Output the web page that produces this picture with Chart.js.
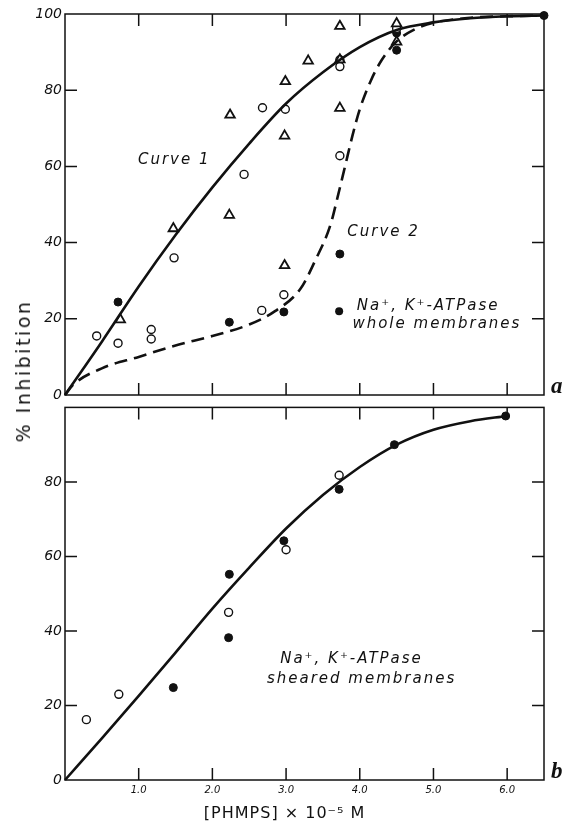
<!DOCTYPE html>
<html>
<head>
<meta charset="utf-8">
<script src="https://cdn.jsdelivr.net/npm/chart.js@4.4.1/dist/chart.umd.min.js"></script>
<style>
  body { margin: 0; background: #fff; width: 568px; height: 826px; position: relative; overflow: hidden; }
  #wa { position: absolute; left: 0; top: 0; width: 568px; height: 410px; }
  #wb { position: absolute; left: 0; top: 396px; width: 568px; height: 430px; }
  #ytitle {
    position: absolute; left: 23px; top: 371px;
    transform: translate(-50%, -50%) rotate(-90deg);
    font: 19px "DejaVu Sans", sans-serif; letter-spacing: 2.5px;
    color: #111; white-space: nowrap;
  }
</style>
</head>
<body>
<div id="wa"><canvas id="chartA"></canvas></div>
<div id="wb"><canvas id="chartB"></canvas></div>
<div id="ytitle">% Inhibition</div>
<script>
// ---- panel a: whole membranes ----
const A_OPEN_X = [0.43, 0.72, 1.17, 1.17, 1.48, 2.43, 2.68, 2.67, 2.99, 2.97, 3.73, 3.73, 3.73, 4.50];
const A_OPEN_Y = [15.5, 13.6, 17.2, 14.7, 36.0, 57.9, 75.4, 22.2, 75.0, 26.3, 88.0, 86.2, 62.8, 96.2];
const A_TRI_X = [0.75, 1.47, 2.24, 2.23, 2.99, 2.98, 2.98, 3.30, 3.73, 3.73, 3.73, 4.50, 4.50];
const A_TRI_Y = [19.8, 43.7, 73.5, 47.2, 82.3, 68.0, 34.0, 87.7, 96.8, 88.0, 75.3, 97.5, 92.7];
const A_FILL_X = [0.72, 2.23, 2.97, 3.73, 4.50, 4.50, 6.50];
const A_FILL_Y = [24.4, 19.1, 21.8, 37.0, 95.0, 90.5, 99.6];

const CURVE1_X = [0, 0.5, 1, 1.5, 2, 2.5, 3, 3.5, 4, 4.5, 5, 5.5, 6, 6.5];
const CURVE1_Y = [0, 14, 28.5, 42, 54.5, 66, 76.5, 84.7, 91.3, 95.8, 97.8, 98.9, 99.4, 99.6];
const CURVE2_X = [0, 0.1, 0.5, 1, 1.5, 2, 2.5, 2.85, 3.2, 3.4, 3.6, 3.7, 3.8, 3.9, 4, 4.15, 4.3, 4.5, 4.75, 5, 5.5, 6, 6.5];
const CURVE2_Y = [0, 2.5, 7, 10, 13, 15.5, 18.5, 22, 28, 35.5, 44.5, 52, 60, 68, 75, 82.5, 88, 92.8, 96, 97.7, 99, 99.4, 99.6];

// ---- panel b: sheared membranes ----
const B_OPEN_X = [0.29, 0.73, 2.22, 3.00, 3.72];
const B_OPEN_Y = [16.2, 23.0, 45.0, 61.8, 81.8];
const B_FILL_X = [1.47, 2.22, 2.23, 2.97, 3.72, 4.47, 5.98];
const B_FILL_Y = [24.8, 38.2, 55.2, 64.2, 78.0, 90.0, 97.7];
const CURVEB_X = [0, 0.5, 1, 1.5, 2, 2.5, 3, 3.5, 4, 4.5, 5, 5.5, 6];
const CURVEB_Y = [0, 11.2, 22.6, 34.2, 46, 57, 67.5, 76.5, 84, 90, 94, 96.3, 97.7];

// ---- axes ----
const X_TICKS = [1, 2, 3, 4, 5, 6];
const A_Y_TICKS = [0, 20, 40, 60, 80, 100];
const B_Y_TICKS = [0, 20, 40, 60, 80];
const INNER_Y_TICKS = [20, 40, 60, 80];

const INK = "#111";
const pts = (xs, ys) => xs.map((x, i) => ({ x, y: ys[i] }));

// frame + inward tick marks + text labels
const framePlugin = {
  id: "frame",
  afterDraw(chart, args, opts) {
    const { ctx, chartArea: a, scales } = chart;
    const xs = scales.x, ys = scales.y;
    ctx.save();
    ctx.strokeStyle = INK;
    ctx.lineWidth = 1.5;
    ctx.strokeRect(a.left, a.top, a.right - a.left, a.bottom - a.top);
    const len = 12;
    ctx.beginPath();
    X_TICKS.forEach((v) => {
      const px = xs.getPixelForValue(v);
      ctx.moveTo(px, a.bottom); ctx.lineTo(px, a.bottom - len);
      ctx.moveTo(px, a.top); ctx.lineTo(px, a.top + len);
    });
    INNER_Y_TICKS.forEach((v) => {
      const py = ys.getPixelForValue(v);
      ctx.moveTo(a.left, py); ctx.lineTo(a.left + len, py);
      ctx.moveTo(a.right, py); ctx.lineTo(a.right - len, py);
    });
    ctx.stroke();

    // text labels placed in data units
    ctx.fillStyle = INK;
    ctx.textBaseline = "middle";
    ctx.textAlign = "left";
    ctx.letterSpacing = "2px";
    (opts.texts || []).forEach((t) => {
      ctx.font = t.font || 'italic 15px "DejaVu Sans"';
      ctx.fillText(t.text, xs.getPixelForValue(t.x), ys.getPixelForValue(t.y));
    });
    ctx.letterSpacing = "0px";
    (opts.dots || []).forEach((d) => {
      ctx.beginPath();
      ctx.arc(xs.getPixelForValue(d.x), ys.getPixelForValue(d.y), 4, 0, Math.PI * 2);
      ctx.fill();
    });

    // panel letter
    ctx.font = 'italic bold 23px "Liberation Serif", serif';
    ctx.textBaseline = "alphabetic";
    ctx.fillText(opts.letter, a.right + 7, a.bottom - 2);

    if (opts.xTitle) {
      ctx.font = '16px "DejaVu Sans", sans-serif';
      ctx.textAlign = "center";
      ctx.letterSpacing = "1px";
      ctx.fillText(opts.xTitle, xs.getPixelForValue(2.98), a.bottom + 38);
      ctx.letterSpacing = "0px";
    }
    ctx.restore();
  },
};

const openCircle = (data) => ({
  type: "scatter", data, pointStyle: "circle", pointRadius: 4,
  pointBackgroundColor: "#fff", pointBorderColor: INK, pointBorderWidth: 1.4, clip: false,
});
const filledCircle = (data) => ({
  type: "scatter", data, pointStyle: "circle", pointRadius: 4,
  pointBackgroundColor: INK, pointBorderColor: INK, pointBorderWidth: 1, clip: false,
});
const openTriangle = (data) => ({
  type: "scatter", data, pointStyle: "triangle", pointRadius: 5.5,
  pointBackgroundColor: "#fff", pointBorderColor: INK, pointBorderWidth: 1.8, clip: false,
});
const curve = (data, dash) => ({
  type: "line", data, borderColor: INK, borderWidth: 2.6, borderDash: dash || [],
  pointRadius: 0, cubicInterpolationMode: "monotone", fill: false, clip: false,
});

const tickFont = { family: "DejaVu Sans", size: 14, style: "italic" };

function yAxis(ticks, width) {
  return {
    type: "linear", min: 0, max: 100,
    afterBuildTicks: (s) => { s.ticks = ticks.map((v) => ({ value: v })); },
    ticks: { color: INK, font: tickFont, padding: 3 },
    grid: { display: false, drawTicks: false },
    border: { display: false },
    afterFit: (s) => { s.width = width; },
  };
}

const common = {
  responsive: true,
  maintainAspectRatio: false,
  animation: false,
  events: [],
  plugins: { legend: { display: false }, tooltip: { enabled: false } },
};

new Chart(document.getElementById("chartA"), {
  type: "scatter",
  data: {
    datasets: [
      curve(pts(CURVE1_X, CURVE1_Y)),
      curve(pts(CURVE2_X, CURVE2_Y), [13, 7]),
      openTriangle(pts(A_TRI_X, A_TRI_Y)),
      openCircle(pts(A_OPEN_X, A_OPEN_Y)),
      filledCircle(pts(A_FILL_X, A_FILL_Y)),
    ],
  },
  options: {
    ...common,
    layout: { padding: { left: 0, top: 14, right: 24, bottom: 15 } },
    scales: {
      x: {
        type: "linear", min: 0, max: 6.5,
        ticks: { display: false },
        grid: { display: false, drawTicks: false },
        border: { display: false },
        afterFit: (s) => { s.height = 0; },
      },
      y: yAxis(A_Y_TICKS, 65),
    },
    plugins: {
      ...common.plugins,
      frame: {
        letter: "a",
        texts: [
          { text: "Curve 1", x: 0.99, y: 61.7 },
          { text: "Curve 2", x: 3.83, y: 42.8 },
          { text: "Na\u207A, K\u207A-ATPase", x: 3.96, y: 23.2 },
          { text: "whole membranes", x: 3.9, y: 18.6 },
        ],
        dots: [{ x: 3.72, y: 22.0 }],
      },
    },
  },
  plugins: [framePlugin],
});

new Chart(document.getElementById("chartB"), {
  type: "scatter",
  data: {
    datasets: [
      curve(pts(CURVEB_X, CURVEB_Y)),
      openCircle(pts(B_OPEN_X, B_OPEN_Y)),
      filledCircle(pts(B_FILL_X, B_FILL_Y)),
    ],
  },
  options: {
    ...common,
    layout: { padding: { left: 0, top: 8, right: 24, bottom: 0 } },
    scales: {
      x: {
        type: "linear", min: 0, max: 6.5,
        afterBuildTicks: (s) => { s.ticks = X_TICKS.map((v) => ({ value: v })); },
        ticks: {
          color: INK, padding: 4,
          font: { family: "DejaVu Sans", size: 10, style: "italic" },
          callback: (v) => Number(v).toFixed(1),
        },
        grid: { display: false, drawTicks: false },
        border: { display: false },
        afterFit: (s) => { s.height = 46; },
      },
      y: yAxis(B_Y_TICKS, 65),
    },
    plugins: {
      ...common.plugins,
      frame: {
        letter: "b",
        xTitle: "[PHMPS] \u00D7 10\u207B\u2075 M",
        texts: [
          { text: "Na\u207A, K\u207A-ATPase", x: 2.92, y: 32.4 },
          { text: "sheared membranes", x: 2.74, y: 27.1 },
        ],
      },
    },
  },
  plugins: [framePlugin],
});
</script>
</body>
</html>
